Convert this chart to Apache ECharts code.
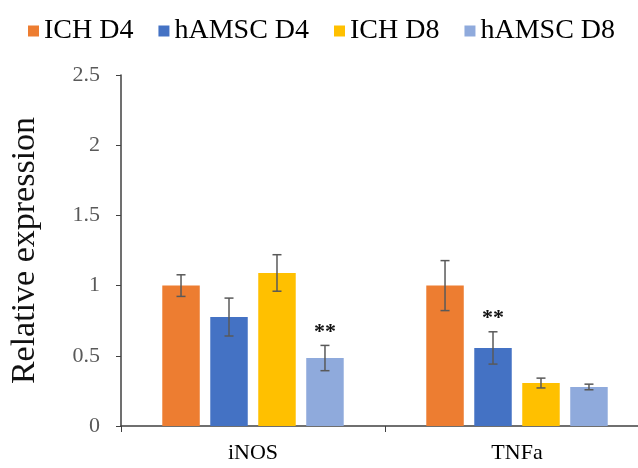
<!DOCTYPE html>
<html>
<head>
<meta charset="utf-8">
<script src="https://cdn.jsdelivr.net/npm/echarts@6/dist/echarts.min.js"></script>
<style>html,body{margin:0;padding:0;background:#fff;overflow:hidden;}#c{width:660px;height:468px;}</style>
</head>
<body>
<div id="c"></div>
<script>
var categories = ['iNOS', 'TNFa'];
var seriesNames = ['ICH D4', 'hAMSC D4', 'ICH D8', 'hAMSC D8'];
var ichD4 = [1.0, 1.0];
var ichD4Err = [0.077, 0.178];
var hamscD4 = [0.776, 0.556];
var hamscD4Err = [0.135, 0.115];
var ichD8 = [1.09, 0.306];
var ichD8Err = [0.13, 0.035];
var hamscD8 = [0.484, 0.278];
var hamscD8Err = [0.09, 0.02];
var hamscD4Sig = ['', '**'];
var hamscD8Sig = ['**', ''];
var ichD4Sig = ['', ''];
var ichD8Sig = ['', ''];
var yTicks = [0, 0.5, 1, 1.5, 2, 2.5];

var colors = ['#ED7D31', '#4472C4', '#FFC000', '#8FAADC'];
var values = [ichD4, hamscD4, ichD8, hamscD8];
var errs = [ichD4Err, hamscD4Err, ichD8Err, hamscD8Err];
var sigs = [ichD4Sig, hamscD4Sig, ichD8Sig, hamscD8Sig];
var FONT = '"Liberation Serif", "Times New Roman", serif';
var BAR_RATIO = 0.142, GAP_RATIO = 0.28;

var series = [];
seriesNames.forEach(function (n, i) {
  series.push({
    name: n, type: 'bar', data: values[i],
    barWidth: (BAR_RATIO * 100) + '%', barGap: (GAP_RATIO * 100) + '%',
    itemStyle: { color: colors[i] }
  });
});
seriesNames.forEach(function (n, i) {
  var data = categories.map(function (c, k) { return [k, values[i][k], errs[i][k], sigs[i][k]]; });
  series.push({
    name: n + ' err', type: 'custom', z: 5,
    data: data,
    renderItem: function (params, api) {
      var k = api.value(0), v = api.value(1), e = api.value(2);
      var sig = data[params.dataIndex][3];
      var catW = api.size([1, 0])[0];
      var bw = catW * BAR_RATIO, gap = bw * GAP_RATIO;
      var off = (i - 1.5) * (bw + gap);
      var x = api.coord([k, 0])[0] + off;
      var yt = api.coord([k, v + e])[1];
      var yb = api.coord([k, v - e])[1];
      var h = 4.5;
      var st = { stroke: '#595959', lineWidth: 1.5 };
      var children = [
        { type: 'line', shape: { x1: x, y1: yt, x2: x, y2: yb }, style: st },
        { type: 'line', shape: { x1: x - h, y1: yt, x2: x + h, y2: yt }, style: st },
        { type: 'line', shape: { x1: x - h, y1: yb, x2: x + h, y2: yb }, style: st }
      ];
      if (sig) {
        children.push({ type: 'text', style: { text: sig, x: x, y: yt - 2, align: 'center', verticalAlign: 'bottom',
          font: 'bold 22px ' + FONT, fill: '#111' } });
      }
      return { type: 'group', children: children };
    }
  });
});

var chart = echarts.init(document.getElementById('c'), null, { renderer: 'canvas' });
chart.setOption({
  animation: false,
  backgroundColor: '#fff',
  legend: {
    data: seriesNames, left: 23, top: 12, itemWidth: 11, itemHeight: 11, itemGap: 25,
    textStyle: { fontFamily: FONT, fontSize: 28, color: '#000' },
    icon: 'rect'
  },
  grid: { left: 119, top: 75, width: 530, height: 351, containLabel: false },
  xAxis: {
    type: 'category', data: categories,
    axisLine: { lineStyle: { color: '#404040', width: 1.5 } },
    axisTick: { show: true, length: 6, lineStyle: { color: '#404040' } },
    axisLabel: { fontFamily: FONT, fontSize: 22, color: '#000', margin: 16 }
  },
  yAxis: {
    type: 'value', min: yTicks[0], max: yTicks[yTicks.length - 1], interval: yTicks[1] - yTicks[0],
    name: 'Relative expression', nameLocation: 'middle', nameGap: 79,
    nameTextStyle: { fontFamily: FONT, fontSize: 34, color: '#111' },
    splitLine: { show: false },
    axisLine: { show: true, lineStyle: { color: '#404040', width: 1.5 } },
    axisTick: { show: true, length: 5, lineStyle: { color: '#404040' } },
    axisLabel: { fontFamily: FONT, fontSize: 22, color: '#595959', margin: 21 }
  },
  series: series
});
</script>
</body>
</html>
